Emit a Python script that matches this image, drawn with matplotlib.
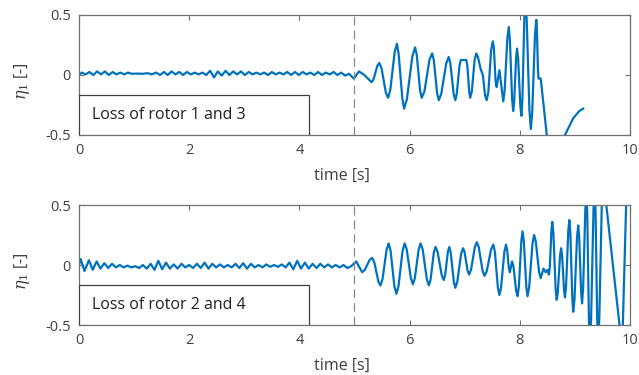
import numpy as np
import matplotlib
matplotlib.use("Agg")
import matplotlib.pyplot as plt
from matplotlib.patches import Rectangle

# case 1: loss of rotor 1 and 3
t_top = [0.00, 0.05, 0.12, 0.19, 0.26, 0.33, 0.40, 0.47, 0.54, 0.61,
         0.68, 0.75, 0.82, 0.89, 0.96, 1.05, 1.15, 1.25, 1.32, 1.40,
         1.47, 1.54, 1.61, 1.68, 1.75, 1.82, 1.89, 1.96, 2.03, 2.10,
         2.17, 2.24, 2.31, 2.38, 2.45, 2.52, 2.59, 2.66, 2.73, 2.80,
         2.87, 2.94, 3.01, 3.08, 3.15, 3.22, 3.29, 3.36, 3.43, 3.50,
         3.57, 3.64, 3.71, 3.78, 3.85, 3.92, 3.99, 4.06, 4.13, 4.20,
         4.27, 4.34, 4.41, 4.48, 4.55, 4.62, 4.69, 4.76, 4.83, 4.90,
         4.99, 5.08, 5.18, 5.31, 5.345, 5.415, 5.45, 5.49, 5.57, 5.61,
         5.65, 5.73, 5.77, 5.80, 5.87, 5.90, 5.95, 6.05, 6.10, 6.13,
         6.19, 6.22, 6.27, 6.36, 6.41, 6.44, 6.50, 6.53, 6.575, 6.665,
         6.71, 6.74, 6.80, 6.83, 6.855, 6.905, 6.93, 7.03, 7.048, 7.083,
         7.10, 7.13, 7.18, 7.21, 7.24, 7.29, 7.33, 7.37, 7.40, 7.43,
         7.48, 7.51, 7.53, 7.56, 7.58, 7.63, 7.70, 7.725, 7.775, 7.80,
         7.82, 7.86, 7.88, 7.898, 7.933, 7.95, 7.97, 8.01, 8.03, 8.048,
         8.083, 8.10, 8.125, 8.175, 8.20, 8.225, 8.275, 8.30, 8.31, 8.33,
         8.34, 8.38, 8.49, 8.55, 8.60, 8.78, 8.82, 8.97, 9.08, 9.15]
eta_top = [0.00, 0.02, 0.005, 0.025, 0.00, 0.03, 0.005, 0.03, 0.00, 0.025,
           0.005, 0.02, 0.005, 0.02, 0.01, 0.012, 0.01, 0.015, 0.005, 0.02,
           0.00, 0.025, 0.00, 0.03, 0.005, 0.025, 0.00, 0.025, 0.005, 0.02,
           0.005, 0.02, 0.00, 0.035, -0.02, 0.03, -0.005, 0.035, 0.00, 0.03,
           0.005, 0.03, 0.00, 0.025, 0.005, 0.02, 0.005, 0.02, 0.00, 0.025,
           0.005, 0.02, 0.005, 0.025, 0.00, 0.025, 0.00, 0.025, 0.005, 0.02,
           0.00, 0.025, 0.00, 0.02, 0.005, 0.025, 0.00, 0.02, -0.005, 0.01,
           -0.03, 0.03, 0.00, -0.06, -0.037, 0.077, 0.10, 0.058, -0.148, -0.19,
           -0.124, 0.194, 0.26, 0.181, -0.201, -0.28, -0.205, 0.155, 0.23, 0.169,
           -0.129, -0.19, -0.136, 0.126, 0.18, 0.123, -0.153, -0.21, -0.157, 0.097,
           0.15, 0.097, -0.157, -0.21, -0.161, 0.076, 0.125, 0.125, 0.079, -0.143,
           -0.19, -0.136, 0.126, 0.18, 0.15, 0.05, 0.00, -0.17, -0.21, -0.138,
           0.208, 0.28, 0.225, -0.045, -0.10, 0.04, -0.22, -0.129, 0.31, 0.40,
           0.298, -0.198, -0.30, -0.224, 0.144, 0.22, 0.138, -0.258, -0.34, -0.20,
           0.48, 0.62, 0.464, -0.294, -0.45, -0.317, 0.327, 0.46, 0.39, 0.04,
           -0.03, -0.03, -0.50, -0.70, np.nan, -0.70, -0.50, -0.36, -0.30, -0.28]

# case 2: loss of rotor 2 and 4
t_bot = [0.00, 0.03, 0.10, 0.18, 0.25, 0.32, 0.39, 0.46, 0.53, 0.60,
         0.67, 0.74, 0.81, 0.88, 0.95, 1.02, 1.09, 1.16, 1.23, 1.30,
         1.37, 1.44, 1.51, 1.58, 1.65, 1.72, 1.79, 1.86, 1.93, 2.00,
         2.07, 2.14, 2.21, 2.28, 2.35, 2.42, 2.49, 2.56, 2.63, 2.70,
         2.77, 2.84, 2.91, 2.98, 3.05, 3.12, 3.19, 3.26, 3.33, 3.40,
         3.47, 3.54, 3.61, 3.68, 3.75, 3.82, 3.89, 3.96, 4.03, 4.10,
         4.17, 4.24, 4.31, 4.38, 4.45, 4.52, 4.59, 4.66, 4.73, 4.80,
         4.87, 4.94, 5.03, 5.14, 5.185, 5.275, 5.32, 5.358, 5.433, 5.47,
         5.508, 5.583, 5.62, 5.655, 5.725, 5.76, 5.798, 5.873, 5.91, 5.948,
         6.023, 6.06, 6.095, 6.165, 6.20, 6.238, 6.313, 6.35, 6.38, 6.44,
         6.47, 6.508, 6.583, 6.62, 6.645, 6.695, 6.72, 6.748, 6.803, 6.83,
         6.865, 6.935, 6.97, 6.998, 7.053, 7.08, 7.115, 7.185, 7.22, 7.255,
         7.325, 7.36, 7.40, 7.48, 7.52, 7.548, 7.603, 7.63, 7.66, 7.72,
         7.75, 7.77, 7.80, 7.82, 7.86, 7.885, 7.935, 7.96, 7.983, 8.028,
         8.05, 8.073, 8.118, 8.14, 8.17, 8.23, 8.26, 8.29, 8.35, 8.38,
         8.43, 8.47, 8.50, 8.53, 8.545, 8.575, 8.59, 8.61, 8.65, 8.67,
         8.69, 8.73, 8.75, 8.768, 8.803, 8.82, 8.84, 8.88, 8.90, 8.918,
         8.953, 8.97, 8.993, 9.038, 9.06, 9.078, 9.113, 9.13, 9.15, 9.19,
         9.21, 9.225, 9.255, 9.27, 9.293, 9.338, 9.36, 9.375, 9.405, 9.42,
         9.443, 9.488, 9.51, 9.57, 9.81, 9.84, 9.87, 9.93, 9.97]
eta_bot = [0.00, 0.05, -0.05, 0.04, -0.04, 0.03, -0.03, 0.015, -0.025, 0.01,
           -0.02, 0.00, -0.02, -0.005, -0.02, -0.01, -0.025, 0.00, -0.03, 0.01,
           -0.04, 0.035, -0.035, 0.02, -0.03, 0.005, -0.03, 0.01, -0.02, 0.00,
           -0.025, 0.01, -0.025, 0.02, -0.03, 0.01, -0.02, 0.005, -0.02, 0.00,
           -0.02, 0.01, -0.025, 0.015, -0.03, 0.01, -0.02, 0.00, -0.02, 0.005,
           -0.015, 0.00, -0.015, 0.005, -0.02, 0.02, -0.035, 0.035, -0.03, 0.02,
           -0.03, 0.01, -0.025, 0.01, -0.02, 0.005, -0.02, 0.00, -0.02, 0.00,
           -0.025, -0.01, 0.03, -0.06, -0.042, 0.042, 0.06, 0.026, -0.136, -0.17,
           -0.119, 0.128, 0.18, 0.119, -0.179, -0.24, -0.179, 0.119, 0.18, 0.13,
           -0.11, -0.16, -0.11, 0.13, 0.18, 0.129, -0.118, -0.17, -0.123, 0.103,
           0.15, 0.11, -0.085, -0.125, -0.085, 0.11, 0.15, 0.10, -0.14, -0.19,
           -0.142, 0.092, 0.14, 0.108, -0.048, -0.08, -0.04, 0.15, 0.19, 0.149,
           -0.049, -0.09, -0.052, 0.132, 0.17, 0.109, -0.189, -0.25, -0.189, 0.109,
           0.17, 0.13, -0.02, -0.06, 0.03, -0.012, -0.218, -0.26, -0.181, 0.201,
           0.28, 0.201, -0.181, -0.26, -0.186, 0.176, 0.25, 0.197, -0.057, -0.11,
           -0.03, -0.06, -0.04, -0.08, -0.016, 0.296, 0.36, 0.265, -0.195, -0.29,
           -0.227, 0.077, 0.14, 0.08, -0.21, -0.27, -0.176, 0.281, 0.375, 0.263,
           -0.278, -0.39, -0.285, 0.225, 0.33, 0.235, -0.225, -0.32, -0.186, 0.466,
           0.60, 0.42, -0.47, -0.65, -0.47, 0.47, 0.65, 0.45, -0.45, -0.65,
           -0.45, 0.50, 0.70, 0.50, -0.50, -0.60, -0.50, 0.50, 0.80]

labels = ["Loss of rotor 1 and 3", "Loss of rotor 2 and 4"]
t_fault = 5.0

plt.rcParams['font.family'] = ['Open Sans', 'DejaVu Sans']
plt.rcParams['mathtext.fontset'] = 'dejavuserif'

fig = plt.figure(figsize=(6.39, 3.75), dpi=100)
ax1 = fig.add_axes([0.1236, 0.64, 0.8623, 0.32])
ax2 = fig.add_axes([0.1236, 0.1333, 0.8623, 0.32])

for ax, t, eta, label in [(ax1, t_top, eta_top, labels[0]),
                          (ax2, t_bot, eta_bot, labels[1])]:
    ax.plot(t, eta, color='#0072BD', lw=1.6, solid_joinstyle='round')
    ax.axvline(t_fault, color='#8a8a8a', lw=0.9, ls=(0, (7, 4)))
    ax.set_xlim(0, 10)
    ax.set_ylim(-0.5, 0.5)
    ax.set_xticks([0, 2, 4, 6, 8, 10])
    ax.set_yticks([-0.5, 0, 0.5])
    ax.set_yticklabels(['-0.5', '0', '0.5'])
    ax.tick_params(direction='in', top=True, right=True, length=3.5,
                   width=0.8, colors='#707070', labelcolor='#404040',
                   labelsize=10.5, pad=6)
    for s in ax.spines.values():
        s.set_color('#707070')
        s.set_linewidth(0.9)
    ax.set_xlabel('time [s]', fontsize=11.5, color='#404040')
    ax.xaxis.set_label_coords(0.478, -0.27)
    ax.set_ylabel(r'$\eta_1$ [-]', fontsize=11.5, color='#404040')
    ax.yaxis.set_label_coords(-0.085, 0.45)
    ax.add_patch(Rectangle((0, -0.5), 4.18, 0.335, facecolor='white',
                           edgecolor='#404040', lw=0.9, zorder=3))
    ax.text(0.23, -0.33, label, fontsize=11.5, color='#202020',
            va='center', ha='left', zorder=4)

fig.savefig('out.png', dpi=100)
